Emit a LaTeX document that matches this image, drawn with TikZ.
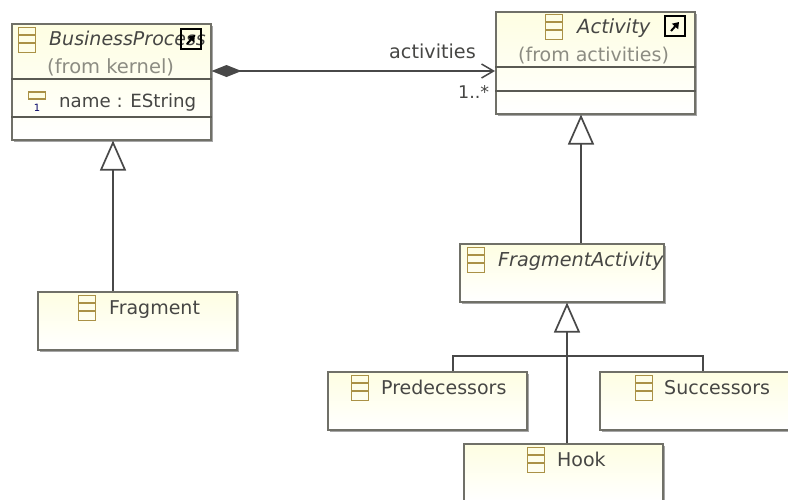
\documentclass[tikz,border=0pt]{standalone}
\usepackage{fontspec}
\setmainfont{DejaVu Sans}
\usetikzlibrary{arrows.meta,shadows}
\definecolor{boxline}{RGB}{112,112,104}
\definecolor{boxfill}{RGB}{254,254,226}
\definecolor{iconline}{RGB}{170,145,70}
\definecolor{inktext}{RGB}{70,70,68}
\definecolor{fromtext}{RGB}{140,140,130}
\definecolor{linkline}{RGB}{72,72,72}

\tikzset{
  classbox/.style={rectangle,draw=boxline,line width=1.5pt,top color=boxfill,bottom color=white,
    minimum width=199pt,minimum height=58pt,inner sep=0pt,anchor=north west,
    drop shadow={shadow xshift=2pt,shadow yshift=-2pt,fill=black!50,opacity=.7}},
  boxtext/.style={text=inktext,font=\fontsize{19}{20}\selectfont,inner sep=0pt,anchor=base west},
  fromlabel/.style={boxtext,text=fromtext},
  classicon/.style={rectangle,draw=iconline,line width=1.3pt,minimum width=17pt,minimum height=25pt,inner sep=0pt,anchor=north west},
  shortcut/.style={rectangle,draw=black,line width=1.3pt,minimum width=20pt,minimum height=20pt,inner sep=0pt},
  sep/.style={draw=boxline!80!black,line width=1.3pt},
  link/.style={draw=linkline,line width=1.7pt},
  inherit/.style={link,-{Triangle[open,length=30pt,width=26pt,fill=white]}},
}

\begin{document}
\begin{tikzpicture}[x=1pt,y=-1pt]
  \useasboundingbox (0,0) rectangle (788,499);
  \clip (0,0) rectangle (788,499);

  % boxes
  \node[classbox,minimum height=116pt] (bp) at (11,23) {};
  \node[classbox,minimum height=102pt] (activity) at (495,11) {};
  \node[classbox,minimum width=204pt] (fragact) at (459,243) {};
  \node[classbox] (fragment) at (37,291) {};
  \node[classbox] (pred) at (327,371) {};
  \node[classbox] (succ) at (599,371) {};
  \node[classbox] (hook) at (463,443) {};

  % compartments
  \draw[sep] (bp.west |- 0,79) -- (bp.east |- 0,79);
  \draw[sep] (bp.west |- 0,117) -- (bp.east |- 0,117);
  \draw[sep] (activity.west |- 0,67) -- (activity.east |- 0,67);
  \draw[sep] (activity.west |- 0,91) -- (activity.east |- 0,91);

  % texts
  \node[boxtext,font=\fontsize{19}{20}\selectfont\itshape] (bpname) at (49,45) {BusinessProcess};
  \node[fromlabel,font=\fontsize{19.5}{20}\selectfont] (bpfrom) at (47,73) {(from kernel)};
  \node[boxtext,font=\fontsize{18.2}{20}\selectfont] (bpattr) at (59,107) {name : EString};
  \node[boxtext,font=\fontsize{19.5}{20}\selectfont\itshape] (actname) at (577,33) {Activity};
  \node[fromlabel] (actfrom) at (518,61) {(from activities)};
  \node[boxtext,font=\fontsize{19.2}{20}\selectfont\itshape] (fragactname) at (498,266) {FragmentActivity};
  \node[boxtext] (fragmentname) at (109,314) {Fragment};
  \node[boxtext] (predname) at (381,394) {Predecessors};
  \node[boxtext] (succname) at (664,394) {Successors};
  \node[boxtext] (hookname) at (557,466) {Hook};

  % class icons
  \foreach \name/\x/\y in {bpicon/18/27,acticon/545/14,fragacticon/467/247,fragmenticon/78/295,predicon/351/375,succicon/635/375,hookicon/527/447}
  {
    \node[classicon] (\name) at (\x,\y) {};
    \draw[iconline,line width=1.3pt] (\x,\y+8) -- (\x+17,\y+8) (\x,\y+16) -- (\x+17,\y+16);
  }

  % attribute icon
  \node[rectangle,draw=iconline,fill=boxfill,line width=1.3pt,minimum width=17pt,minimum height=7pt,inner sep=0pt] (attricon) at (37,95.5) {};
  \node[text=blue!40!black,font=\fontsize{10}{10}\selectfont,inner sep=0pt] (attrcount) at (37,108) {1};

  % shortcut arrows
  \foreach \name/\x/\y in {bpshort/191/39,actshort/675/26}
  {
    \node[shortcut] (\name) at (\x,\y) {};
    \draw[black,line width=2pt,-{Triangle[length=6pt,width=8pt]}] (\x-4,\y+5) -- (\x+4,\y-4);
  }

  % links
  \draw[link,{Diamond[fill=linkline,length=30pt,width=12pt]}-{Straight Barb[length=12pt,width=14pt,line width=1.5pt]}] (bp.east |- 0,71) -- (activity.west |- 0,71);
  \node[boxtext,font=\fontsize{19.2}{20}\selectfont] (rolelabel) at (389,58) {activities};
  \node[boxtext,font=\fontsize{17.5}{20}\selectfont] (multlabel) at (458,98) {1..*};

  \draw[inherit] (fragment.north -| 113,0) -- (bp.south -| 113,0);
  \draw[inherit] (fragact.north -| 581,0) -- (activity.south -| 581,0);
  \draw[inherit] (hook.north -| 567,0) -- (fragact.south -| 567,0);
  \coordinate (branch) at (567,356);
  \draw[link] (pred.north -| 453,0) |- (branch) -| (succ.north -| 703,0);
\end{tikzpicture}
\end{document}
